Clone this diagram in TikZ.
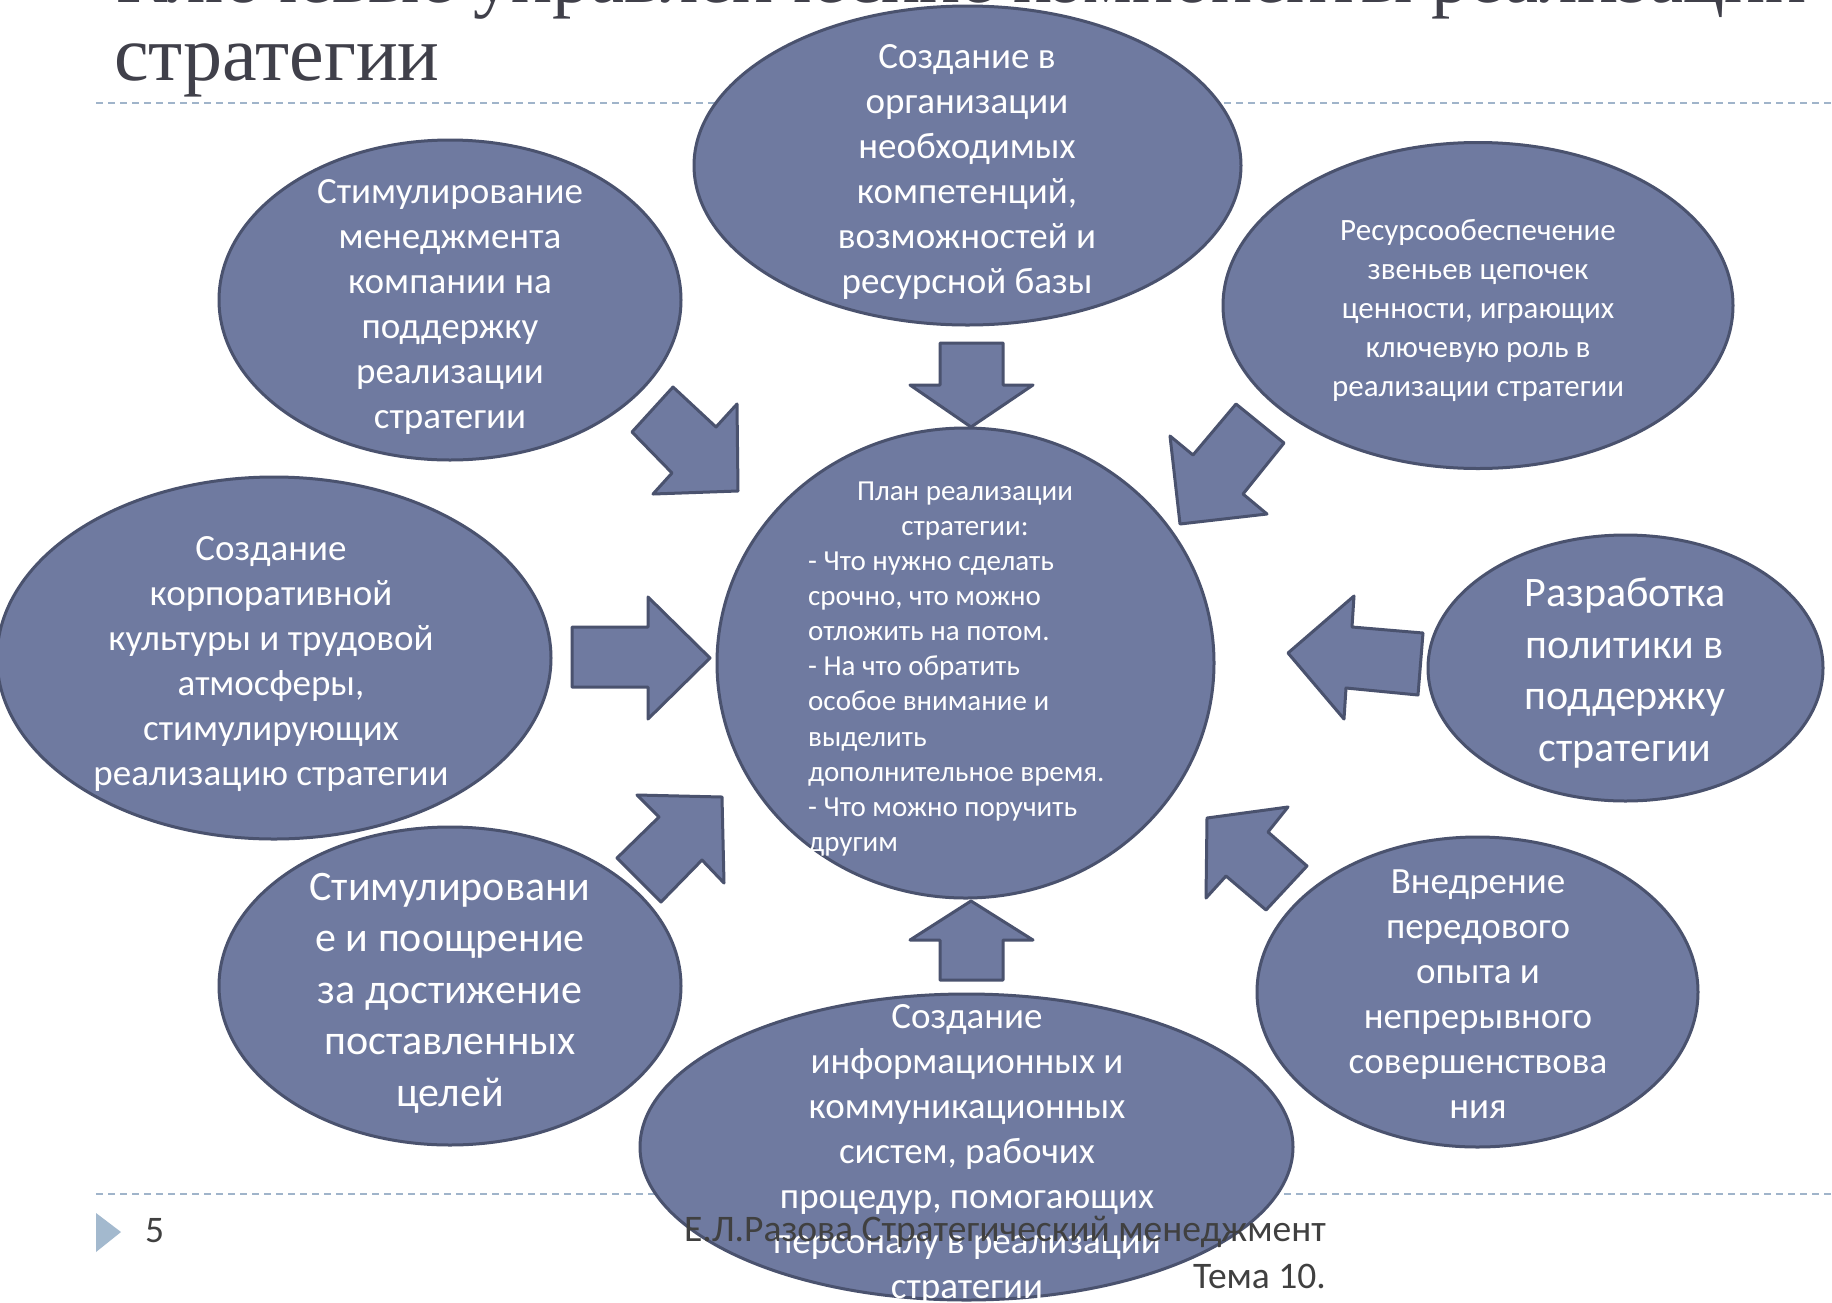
\documentclass[tikz,border=0pt]{standalone}
\usepackage{fontspec}
\usepackage{graphicx}
\usetikzlibrary{shapes.geometric}
\newfontfamily\bodyfont{Carlito}
\newfontfamily\titlefont{Liberation Serif}
\definecolor{ellfill}{RGB}{111,122,160}
\definecolor{elldraw}{RGB}{74,82,110}
\definecolor{rulec}{RGB}{160,180,202}
\definecolor{titlec}{RGB}{64,64,74}
\definecolor{footc}{RGB}{64,64,64}
\definecolor{trianglec}{RGB}{163,185,206}
\tikzset{
  blob/.style={ellipse, draw=elldraw, fill=ellfill, line width=3pt, inner sep=0pt},
  blockarrow/.style={draw=elldraw, fill=ellfill, line width=3pt, line join=round},
  txt/.style={text=white, align=center, inner sep=0pt, font=\bodyfont\fontsize{37}{45}\selectfont},
  txtsmall/.style={text=white, inner sep=0pt, font=\bodyfont\fontsize{31}{38.8}\selectfont},
  txtbig/.style={text=white, align=center, inner sep=0pt, font=\bodyfont\fontsize{42}{51.5}\selectfont},
  txtplan/.style={text=white, inner sep=0pt, font=\bodyfont\fontsize{29}{35.2}\selectfont},
  rule/.style={draw=rulec, line width=2pt, dash pattern=on 7pt off 5pt},
  foot/.style={text=footc, inner sep=0pt, font=\bodyfont\fontsize{37.5}{44}\selectfont},
  titletxt/.style={text=titlec, inner sep=0pt, font=\titlefont\fontsize{78}{78}\selectfont}
}
\begin{document}
\begin{tikzpicture}[x=1pt,y=-1pt]
\useasboundingbox (0,0) rectangle (1832,1302);
\clip (0,0) rectangle (1832,1302);
\fill[white] (0,0) rectangle (1832,1302);

% rules
\coordinate (r1a) at (96,103);
\coordinate (r1b) at (1832,103);
\coordinate (r2a) at (96,1194);
\coordinate (r2b) at (1832,1194);
\draw[rule] (r1a) -- (r1b);
\draw[rule] (r2a) -- (r2b);

% title
\node[titletxt, anchor=base west] (title1) at (116,2) {\resizebox{1690pt}{\height}{Ключевые управленческие компоненты реализации}};
\node[titletxt, anchor=base west] (title2) at (114,80) {стратегии};

% ellipses
\node[blob, minimum width=547pt, minimum height=319pt] (etop) at (967.5,165.5) {};
\node[blob, minimum width=462pt, minimum height=320pt] (eul) at (450,300) {};
\node[blob, minimum width=510pt, minimum height=326pt] (eur) at (1478,305.5) {};
\node[blob, minimum width=554pt, minimum height=362pt] (elm) at (274,658) {};
\node[blob, minimum width=497pt, minimum height=470pt] (ec) at (965.5,663) {};
\node[blob, minimum width=395pt, minimum height=266pt] (erm) at (1625.5,668) {};
\node[blob, minimum width=462pt, minimum height=318pt] (ell) at (450,986) {};
\node[blob, minimum width=441pt, minimum height=310pt] (elr) at (1477.5,992) {};
\node[blob, minimum width=653pt, minimum height=306pt] (ebot) at (966.5,1147) {};

% block arrows
\draw[blockarrow] (940,343) -- (1003,343) -- (1003,385) -- (1033,385) -- (971,427) -- (910,385) -- (940,385) -- cycle;
\draw[blockarrow] (673,387) -- (716,427) -- (737,404) -- (738,491) -- (653,494) -- (672,473) -- (632,432) -- cycle;
\draw[blockarrow] (1236,404) -- (1284,443) -- (1243,494) -- (1267,514) -- (1180,524) -- (1170,436) -- (1193,455) -- cycle;
\draw[blockarrow] (572,627) -- (648,627) -- (648,597) -- (710,658) -- (648,719) -- (648,687) -- (572,687) -- cycle;
\draw[blockarrow] (1288,653) -- (1354,596) -- (1352,627) -- (1423,633) -- (1418,695) -- (1346,688) -- (1344,719) -- cycle;
\draw[blockarrow] (637,795) -- (722,797) -- (724,883) -- (702,860) -- (661,902) -- (617,858) -- (659,817) -- cycle;
\draw[blockarrow] (1207,818) -- (1288,807) -- (1268,832) -- (1307,866) -- (1266,910) -- (1226,876) -- (1206,898) -- cycle;
\draw[blockarrow] (971,901) -- (1033,940) -- (1003,940) -- (1003,980) -- (940,980) -- (940,940) -- (910,940) -- cycle;

% texts
\node[txt] (ttop) at (967,171.5) {Создание в\\организации\\необходимых\\компетенций,\\возможностей и\\ресурсной базы};
\node[txt] (tul) at (450,306.5) {Стимулирование\\менеджмента\\компании на\\поддержку\\реализации\\стратегии};
\node[txtsmall, align=center] (tur) at (1478,310.5) {Ресурсообеспечение\\звеньев цепочек\\ценности, играющих\\ключевую роль в\\реализации стратегии};
\node[txt] (tlm) at (271,664.5) {Создание\\корпоративной\\культуры и трудовой\\атмосферы,\\стимулирующих\\реализацию стратегии};
\node[txtbig] (trm) at (1625,673) {Разработка\\политики в\\поддержку\\стратегии};
\node[txtbig] (tll) at (450,993) {Стимулировани\\е и поощрение\\за достижение\\поставленных\\целей};
\node[txt] (tlr) at (1478,994.5) {Внедрение\\передового\\опыта и\\непрерывного\\совершенствова\\ния};
\node[txt] (tbot) at (967,1154) {Создание\\информационных и\\коммуникационных\\систем, рабочих\\процедур, помогающих\\персоналу в реализации\\стратегии};
\node[txtplan, align=center] (tch) at (965,511) {План реализации\\стратегии:};
\node[txtplan, align=left, anchor=west] (tcl) at (808,704) {- Что нужно сделать\\срочно, что можно\\отложить на потом.\\- На что обратить\\особое внимание и\\выделить\\дополнительное время.\\- Что можно поручить\\другим};

% footer
\fill[trianglec] (96,1213) -- (121,1232) -- (96,1252) -- cycle;
\node[foot, anchor=west] (pg) at (145,1231) {5};
\node[foot, anchor=east] (f1) at (1326,1232) {Е.Л.Разова Стратегический менеджмент};
\node[foot, anchor=east] (f2) at (1326,1276) {Тема 10.};
\end{tikzpicture}
\end{document}
